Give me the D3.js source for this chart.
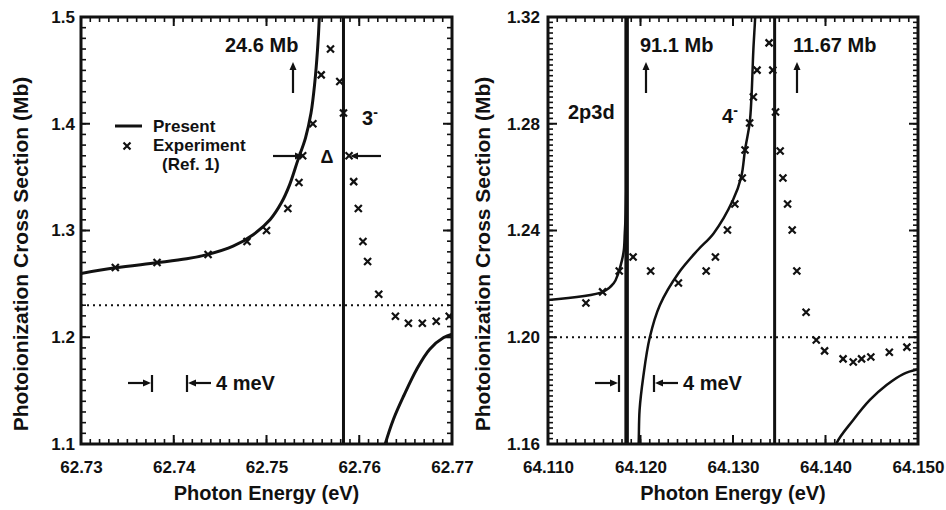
<!DOCTYPE html>
<html>
<head>
<meta charset="utf-8">
<script src="https://cdn.jsdelivr.net/npm/d3@7"></script>
<style>
  body { margin: 0; background: #fff; }
  svg text { font-family: "Liberation Sans", Arial, Helvetica, sans-serif; font-weight: bold; fill: #111; }
</style>
</head>
<body>
<div id="chart"></div>
<script>
// ---- Data ----
// Left panel (3- resonance)
const leftXTicks = [62.73, 62.74, 62.75, 62.76, 62.77];
const leftYTicks = [1.1, 1.2, 1.3, 1.4, 1.5];
const leftCurveLow = [
  [62.7300, 1.2598], [62.7337, 1.2651], [62.7382, 1.2698], [62.7414, 1.2735],
  [62.7437, 1.2776], [62.7464, 1.2853], [62.7486, 1.2963], [62.7504, 1.3103],
  [62.7516, 1.3259], [62.7525, 1.3430], [62.7534, 1.3664], [62.7542, 1.3866],
  [62.7548, 1.4100], [62.7552, 1.4380], [62.7555, 1.4692], [62.7557, 1.5003],
  [62.7558, 1.5300]
];
const leftCurveHigh = [
  [62.7625, 1.0900], [62.7628, 1.1000], [62.7637, 1.1234], [62.7648, 1.1452],
  [62.7662, 1.1701], [62.7676, 1.1888], [62.7691, 1.1997], [62.7700, 1.2028]
];
const leftResonance = 62.7583;
const leftBaseline = 1.23;
const leftExperiment = [
  [62.7337, 1.2654], [62.7382, 1.2701], [62.7437, 1.2776], [62.7479, 1.2897],
  [62.7500, 1.3000], [62.7523, 1.3206], [62.7535, 1.3449], [62.7539, 1.3701],
  [62.7550, 1.4000], [62.7559, 1.4458], [62.7569, 1.4701], [62.7579, 1.4396],
  [62.7583, 1.4100], [62.7589, 1.3701], [62.7594, 1.3458], [62.7599, 1.3206],
  [62.7604, 1.2897], [62.7609, 1.2710], [62.7621, 1.2402], [62.7639, 1.2196],
  [62.7653, 1.2131], [62.7668, 1.2131], [62.7683, 1.2150], [62.7697, 1.2196]
];

// Right panel (2p3d and 4- resonances)
const rightXTicks = [64.110, 64.120, 64.130, 64.140, 64.150];
const rightYTicks = [1.16, 1.20, 1.24, 1.28, 1.32];
const rightCurveA = [
  [64.1100, 1.2140], [64.1160, 1.2171], [64.1171, 1.2202], [64.1176, 1.2240],
  [64.1180, 1.2289], [64.1182, 1.2327], [64.1183, 1.2389], [64.1184, 1.2464],
  [64.1185, 1.2639], [64.1185, 1.3300]
];
const rightCurveB = [
  [64.1197, 1.1550], [64.1198, 1.1603], [64.1199, 1.1727], [64.1203, 1.1852],
  [64.1210, 1.1999], [64.1221, 1.2121], [64.1241, 1.2240], [64.1262, 1.2327],
  [64.1279, 1.2389], [64.1300, 1.2514], [64.1309, 1.2602], [64.1313, 1.2702],
  [64.1318, 1.2802], [64.1320, 1.2901], [64.1322, 1.3076], [64.1324, 1.3201],
  [64.1325, 1.3300]
];
const rightCurveC = [
  [64.1410, 1.1560], [64.1412, 1.1603], [64.1430, 1.1690], [64.1448, 1.1765],
  [64.1466, 1.1821], [64.1484, 1.1862], [64.1500, 1.1880]
];
const rightResonances = [64.1185, 64.1345];
const rightBaseline = 1.20;
const rightExperiment = [
  [64.1141, 1.2128], [64.1159, 1.2170], [64.1177, 1.2248], [64.1192, 1.2301],
  [64.1211, 1.2248], [64.1241, 1.2203], [64.1271, 1.2248], [64.1281, 1.2301],
  [64.1294, 1.2402], [64.1302, 1.2499], [64.1310, 1.2597], [64.1313, 1.2702],
  [64.1318, 1.2803], [64.1322, 1.2900], [64.1326, 1.3001], [64.1339, 1.3103],
  [64.1343, 1.3001], [64.1346, 1.2844], [64.1351, 1.2698], [64.1354, 1.2597],
  [64.1359, 1.2499], [64.1364, 1.2402], [64.1369, 1.2248], [64.1379, 1.2094],
  [64.1390, 1.1990], [64.1399, 1.1949], [64.1419, 1.1919], [64.1430, 1.1907],
  [64.1439, 1.1919], [64.1449, 1.1926], [64.1469, 1.1944], [64.1488, 1.1963]
];

// ---- Drawing ----
const svg = d3.select("#chart")
  .append("svg")
  .attr("width", 946)
  .attr("height", 510);

const defs = svg.append("defs");
const height = 427;

// Arrow: shaft plus a small filled head
function arrow(g, x1, y1, x2, y2) {
  const a = Math.atan2(y2 - y1, x2 - x1);
  const L = 8, W = 3.5;
  const bx = x2 - L * Math.cos(a), by = y2 - L * Math.sin(a);
  g.append("line")
    .attr("x1", x1).attr("y1", y1).attr("x2", bx).attr("y2", by)
    .attr("stroke", "#111").attr("stroke-width", 2.2);
  g.append("path")
    .attr("d", `M${x2},${y2}L${bx - W * Math.sin(a)},${by + W * Math.cos(a)}` +
               `L${bx + W * Math.sin(a)},${by - W * Math.cos(a)}Z`)
    .attr("fill", "#111");
}

function panel(opts) {
  const g = svg.append("g").attr("transform", `translate(${opts.left},17)`);
  const w = opts.width;

  const x = d3.scaleLinear().domain(d3.extent(opts.xTicks)).range([0, w]);
  const y = d3.scaleLinear().domain(d3.extent(opts.yTicks)).range([height, 0]);

  defs.append("clipPath").attr("id", opts.id)
    .append("rect").attr("width", w).attr("height", height);

  const plot = g.append("g").attr("clip-path", `url(#${opts.id})`);

  // Dotted reference level
  plot.append("line")
    .attr("x1", 0).attr("x2", w)
    .attr("y1", y(opts.baseline)).attr("y2", y(opts.baseline))
    .attr("stroke", "#111").attr("stroke-width", 2.2)
    .attr("stroke-dasharray", "2,4");

  // Resonance lines
  opts.resonances.forEach((r, i) => {
    plot.append("line")
      .attr("x1", x(r)).attr("x2", x(r))
      .attr("y1", 0).attr("y2", height)
      .attr("stroke", "#111")
      .attr("stroke-width", opts.resWidth[i]);
  });

  // Present theory curves
  const line = d3.line()
    .curve(d3.curveCatmullRom.alpha(0.5))
    .x(d => x(d[0]))
    .y(d => y(d[1]));
  opts.curves.forEach(c => {
    plot.append("path")
      .datum(c)
      .attr("fill", "none")
      .attr("stroke", "#111")
      .attr("stroke-width", opts.curveWidth)
      .attr("d", line);
  });

  // Experiment crosses
  const s = 3.5;
  plot.selectAll("path.pt")
    .data(opts.experiment)
    .enter()
    .append("path")
    .attr("class", "pt")
    .attr("transform", d => `translate(${x(d[0])},${y(d[1])})`)
    .attr("d", `M${-s},${-s}L${s},${s}M${-s},${s}L${s},${-s}`)
    .attr("stroke", "#111")
    .attr("stroke-width", 2.2);

  // Axis titles
  g.append("text")
    .attr("x", w / 2)
    .attr("y", 483)
    .attr("text-anchor", "middle")
    .attr("font-size", 20)
    .text("Photon Energy (eV)");

  g.append("text")
    .attr("transform", `translate(${opts.yTitleX},237) rotate(-90)`)
    .attr("text-anchor", "middle")
    .attr("font-size", 21)
    .text("Photoionization Cross Section (Mb)");

  // Resolution marker: ->|   |<- 4 meV
  const res = g.append("g");
  arrow(res, 47, 366, 70, 366);
  res.append("line").attr("x1", 71).attr("x2", 71).attr("y1", 358).attr("y2", 375)
    .attr("stroke", "#111").attr("stroke-width", 2.2);
  res.append("line").attr("x1", 106).attr("x2", 106).attr("y1", 358).attr("y2", 375)
    .attr("stroke", "#111").attr("stroke-width", 2.2);
  arrow(res, 130, 366, 107, 366);
  res.append("text").attr("x", 135).attr("y", 373).attr("font-size", 20).text("4 meV");

  // Tick labels from d3 axes
  const xAxis = g.append("g").attr("transform", `translate(0,${height})`)
    .call(d3.axisBottom(x).tickValues(opts.xTicks).tickSize(0).tickPadding(17)
      .tickFormat(d3.format(opts.xFmt)));
  const yAxis = g.append("g")
    .call(d3.axisLeft(y).tickValues(opts.yTicks).tickSize(0).tickPadding(opts.yPad)
      .tickFormat(d3.format(opts.yFmt)));
  [xAxis, yAxis].forEach(a => {
    a.select(".domain").remove();
    a.selectAll("text").attr("font-size", 17).attr("fill", "#111");
  });

  // Inward tick marks on all four sides
  const minorX = d3.range(0, 41).map(i => x.domain()[0] + i * 0.001);
  const minorY = d3.range(0, opts.yMinorCount + 1)
    .map(i => y.domain()[0] + i * (y.domain()[1] - y.domain()[0]) / opts.yMinorCount);
  const ticks = g.append("g").attr("stroke", "#111");
  [[minorX, 5, 1.6], [opts.xTicks, 9, 2]].forEach(([vals, len, sw]) => {
    vals.forEach(v => {
      const px = x(v);
      ticks.append("line").attr("x1", px).attr("x2", px)
        .attr("y1", height).attr("y2", height - len).attr("stroke-width", sw);
      ticks.append("line").attr("x1", px).attr("x2", px)
        .attr("y1", 0).attr("y2", len).attr("stroke-width", sw);
    });
  });
  [[minorY, 5, 1.6], [opts.yTicks, 9, 2]].forEach(([vals, len, sw]) => {
    vals.forEach(v => {
      const py = y(v);
      ticks.append("line").attr("x1", 0).attr("x2", len)
        .attr("y1", py).attr("y2", py).attr("stroke-width", sw);
      ticks.append("line").attr("x1", w).attr("x2", w - len)
        .attr("y1", py).attr("y2", py).attr("stroke-width", sw);
    });
  });

  // Frame
  g.append("rect")
    .attr("width", w).attr("height", height)
    .attr("fill", "none").attr("stroke", "#111").attr("stroke-width", 3);

  return g;
}

function superMinus(g, xPos, yPos, label) {
  const t = g.append("text").attr("x", xPos).attr("y", yPos).attr("font-size", 20);
  t.append("tspan").text(label);
  t.append("tspan").attr("dy", -8).attr("font-size", 14).text("-");
}

// Left panel
const gl = panel({
  id: "clipL", left: 81, width: 371,
  xTicks: leftXTicks, yTicks: leftYTicks, xFmt: ".2f", yFmt: ".1f",
  yMinorCount: 40, yPad: 6, yTitleX: -53,
  baseline: leftBaseline, resonances: [leftResonance], resWidth: [3],
  curves: [leftCurveLow, leftCurveHigh], curveWidth: 3,
  experiment: leftExperiment
});

gl.append("text").attr("x", 144).attr("y", 35).attr("font-size", 20).text("24.6 Mb");
arrow(gl, 212, 76, 212, 45);
superMinus(gl, 281, 108, "3");

// Legend
gl.append("line").attr("x1", 34).attr("x2", 61).attr("y1", 109).attr("y2", 109)
  .attr("stroke", "#111").attr("stroke-width", 3);
gl.append("text").attr("x", 72).attr("y", 115).attr("font-size", 17).text("Present");
gl.append("path")
  .attr("transform", "translate(46,129)")
  .attr("d", "M-3.5,-3.5L3.5,3.5M-3.5,3.5L3.5,-3.5")
  .attr("stroke", "#111").attr("stroke-width", 2.2);
gl.append("text").attr("x", 72).attr("y", 134).attr("font-size", 17).text("Experiment");
gl.append("text").attr("x", 81).attr("y", 153).attr("font-size", 17).text("(Ref. 1)");

// Width marker
gl.append("text").attr("x", 246).attr("y", 146).attr("text-anchor", "middle")
  .attr("font-size", 18).text("\u0394");
arrow(gl, 192, 139, 222, 139);
arrow(gl, 300, 139, 269, 139);

// Right panel
const gr = panel({
  id: "clipR", left: 548, width: 370,
  xTicks: rightXTicks, yTicks: rightYTicks, xFmt: ".3f", yFmt: ".2f",
  yMinorCount: 80, yPad: 8, yTitleX: -58,
  baseline: rightBaseline, resonances: rightResonances, resWidth: [4.5, 3],
  curves: [rightCurveA, rightCurveB, rightCurveC], curveWidth: 2.5,
  experiment: rightExperiment
});

gr.append("text").attr("x", 92).attr("y", 35).attr("font-size", 20).text("91.1 Mb");
arrow(gr, 98, 76, 98, 45);
gr.append("text").attr("x", 245).attr("y", 35).attr("font-size", 20).text("11.67 Mb");
arrow(gr, 249, 76, 249, 45);
gr.append("text").attr("x", 20).attr("y", 102).attr("font-size", 20).text("2p3d");
superMinus(gr, 174, 106, "4");
</script>
</body>
</html>
